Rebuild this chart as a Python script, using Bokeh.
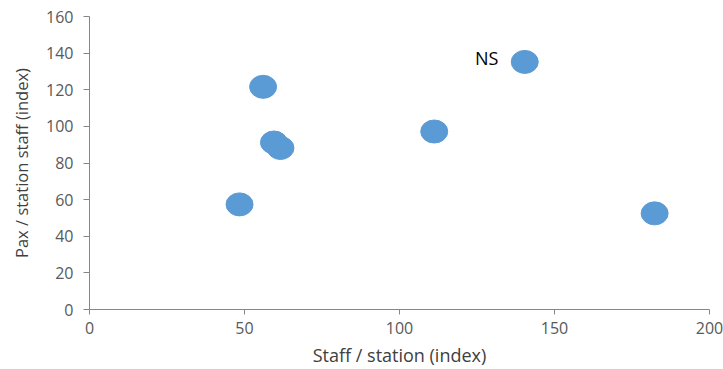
from bokeh.plotting import figure
from bokeh.models import ColumnDataSource, Range1d, FixedTicker
from bokeh.core.properties import value
from bokeh.embed import file_html
from bokeh.resources import INLINE

staff_index = [48.4, 56.0, 59.5, 61.6, 111.2, 140.4, 182.3]
pax_index = [57.4, 121.6, 91.2, 88.2, 97.2, 135.2, 52.5]
point_labels = ["", "", "", "", "", "NS", ""]
x_ticks = [0, 50, 100, 150, 200]
y_ticks = [0, 20, 40, 60, 80, 100, 120, 140, 160]

src = ColumnDataSource(dict(x=staff_index, y=pax_index, lab=point_labels))

p = figure(width=723, height=369, output_backend="svg", toolbar_location=None,
           x_range=Range1d(0, 200), y_range=Range1d(0, 160),
           min_border_left=89, min_border_right=14, min_border_top=16, min_border_bottom=58)
p.outline_line_color = None
p.grid.grid_line_color = None
p.background_fill_color = "white"
p.border_fill_color = "white"

p.xaxis.ticker = FixedTicker(ticks=x_ticks)
p.yaxis.ticker = FixedTicker(ticks=y_ticks)
for ax in (p.xaxis, p.yaxis):
    ax.axis_line_color = "#868686"
    ax.major_tick_line_color = "#868686"
    ax.major_tick_in = 0
    ax.minor_tick_line_color = None
    ax.major_label_text_font = "Open Sans"
    ax.major_label_text_font_size = "16px"
    ax.major_label_text_color = "#595959"
    ax.axis_label_text_font = "Open Sans"
    ax.axis_label_text_font_style = "normal"
    ax.axis_label_text_color = "#404040"
p.xaxis.axis_label_text_font_size = "18px"
p.yaxis.axis_label_text_font_size = "16.5px"
p.xaxis.major_tick_out = 5
p.yaxis.major_tick_out = 6
p.xaxis.axis_label = "Staff / station (index)"
p.yaxis.axis_label = "Pax / station staff (index)"
p.xaxis.major_label_standoff = 7
p.yaxis.major_label_standoff = 10
p.xaxis.axis_label_standoff = 6
p.yaxis.axis_label_standoff = 10

p.ellipse(x="x", y="y", width=27, height=23, width_units="screen", height_units="screen",
          fill_color="#5B9BD5", line_color="#5B9BD5", source=src)
p.text(x="x", y="y", text="lab", source=src, x_offset=-38, y_offset=-4,
       text_align="center", text_baseline="middle", text_font=value("Open Sans"),
       text_font_size="18px", text_color="#000000")

open("out.html", "w").write(file_html(p, INLINE))
